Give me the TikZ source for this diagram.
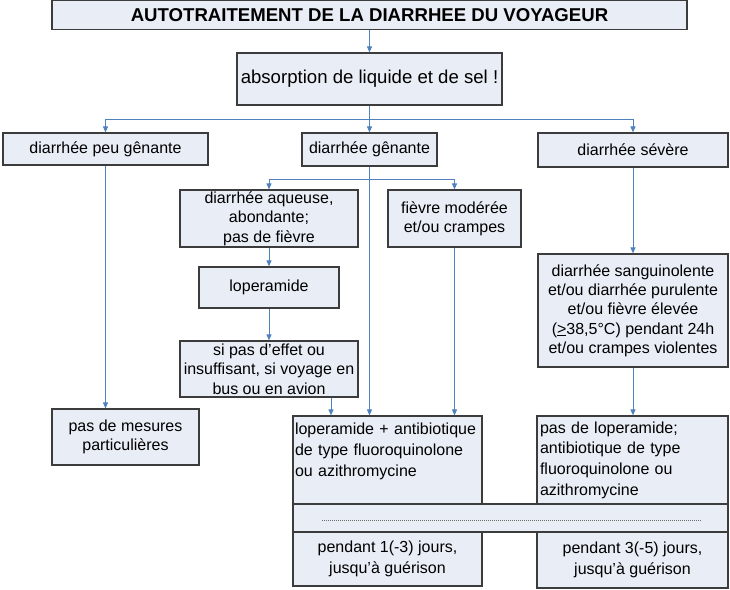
\documentclass[tikz,border=0pt]{standalone}
\usepackage{fontspec}
\setmainfont{Liberation Sans}
\usepackage{xcolor}
\usetikzlibrary{arrows.meta, calc}
\definecolor{boxfill}{RGB}{233,237,246}
\definecolor{boxline}{RGB}{60,60,60}
\definecolor{linkblue}{RGB}{79,129,189}

\begin{document}
\begin{tikzpicture}[
    x=1pt, y=-1pt,
    box/.style={rectangle, draw=boxline, line width=1.2pt, fill=boxfill,
                inner sep=0pt, align=center,
                font=\fontsize{16}{19.3}\selectfont},
    head/.style={box, font=\fontsize{18.6}{22}\selectfont\bfseries},
    big/.style={box, font=\fontsize{18.6}{22}\selectfont},
    leftbox/.style={box, align=left, text width=185pt,
                font=\fontsize{16}{20.7}\selectfont},
    endbox/.style={box, font=\fontsize{16}{20.5}\selectfont},
    arrow/.style={-{Triangle[length=6pt, width=5pt]}, line width=1pt, linkblue},
    dots/.style={line width=1pt, gray!85!black, dash pattern=on 0.8pt off 1.2pt}
]
\useasboundingbox (0,0) rectangle (730,589);

\node[head, minimum width=635pt, minimum height=29pt] (title) at (369.5,15) {AUTOTRAITEMENT DE LA DIARRHEE DU VOYAGEUR};
\node[big, minimum width=265pt, minimum height=52pt] (absorb) at (369.5,79) {absorption de liquide et de sel !};
\node[box, minimum width=205pt, minimum height=32pt] (mild) at (105.5,149) {diarrhée peu gênante};
\node[box, minimum width=135pt, minimum height=33pt] (moderate) at (369.5,149.5) {diarrhée gênante};
\node[box, minimum width=190pt, minimum height=34pt] (severe) at (633,150) {diarrhée sévère};
\node[box, minimum width=178pt, minimum height=57pt] (watery) at (269,218.5) {diarrhée aqueuse,\\abondante;\\pas de fièvre};
\node[box, minimum width=133pt, minimum height=57pt] (fever) at (454.5,218.5) {fièvre modérée\\et/ou crampes};
\node[box, minimum width=140pt, minimum height=41pt] (lopa) at (269,287.5) {loperamide};
\node[box, minimum width=178pt, minimum height=56pt] (noeffect) at (269,369) {si pas d’effet ou\\insuffisant, si voyage en\\bus ou en avion};
\node[box, minimum width=190pt, minimum height=113pt] (bloody) at (633,310.5) {diarrhée sanguinolente\\et/ou diarrhée purulente\\et/ou fièvre élevée\\(\underline{>}38,5°C) pendant 24h\\et/ou crampes violentes};
\node[box, minimum width=147pt, minimum height=56pt] (nothing) at (125.5,437) {pas de mesures\\particulières};
\node[leftbox, minimum width=189pt, minimum height=88pt] (combo) at (387.5,460) {loperamide + antibiotique\\de type fluoroquinolone\\ou azithromycine\\\mbox{}};
\node[leftbox, minimum width=191pt, minimum height=88pt] (nolop) at (632.5,460) {pas de loperamide;\\antibiotique de type\\fluoroquinolone ou\\azithromycine};
\node[box, minimum width=435pt, minimum height=28pt] (band) at (510.5,518) {};
\node[endbox, minimum width=189pt, minimum height=54pt] (short) at (387.5,559) {pendant 1(-3) jours,\\jusqu’à guérison};
\node[endbox, minimum width=191pt, minimum height=56pt] (long) at (632.5,560) {pendant 3(-5) jours,\\jusqu’à guérison};

\coordinate (split) at (369.5,119);
\coordinate (splitb) at (369.5,179);
\coordinate (drop) at ($(noeffect.south)+(62,0)$);

\draw[dots] ($(band.west)+(30,2)$) -- ($(band.east)+(-28,2)$);

\draw[arrow] (title) -- (absorb);
\draw[arrow] (absorb.south) -- (split) -| (mild.north);
\draw[arrow] (split) -- (moderate.north);
\draw[arrow] (split) -| (severe.north);
\draw[arrow] (moderate.south) -- (moderate.south |- combo.north);
\draw[arrow] (splitb) -| (watery.north);
\draw[arrow] (splitb) -| (fever.north);
\draw[arrow] (watery) -- (lopa);
\draw[arrow] (lopa) -- (noeffect);
\draw[arrow] (drop) -- (drop |- combo.north);
\draw[arrow] (fever.south) -- (fever.south |- combo.north);
\draw[arrow] (mild.south) -- (mild.south |- nothing.north);
\draw[arrow] (severe) -- (bloody);
\draw[arrow] (bloody.south) -- (bloody.south |- nolop.north);

\end{tikzpicture}
\end{document}
